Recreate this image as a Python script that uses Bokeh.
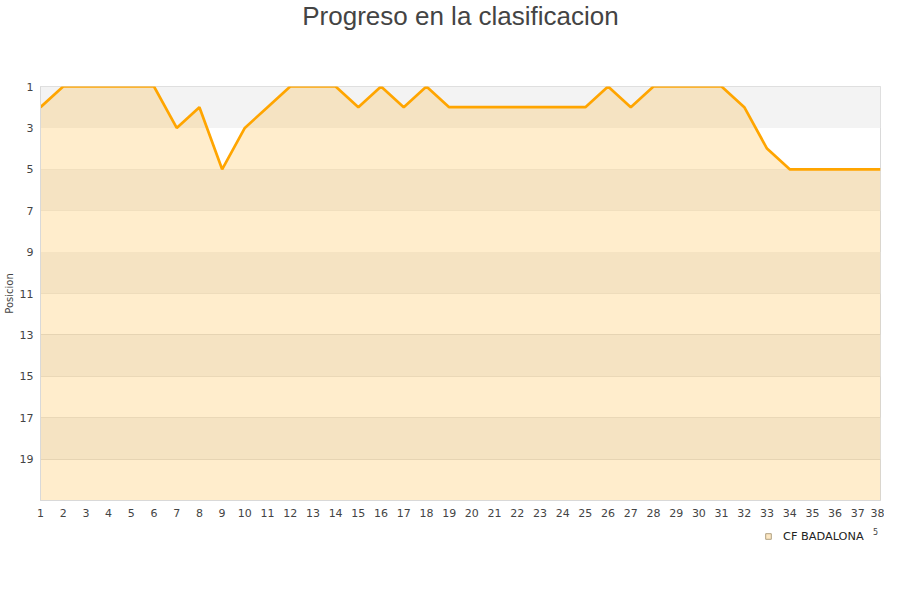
import numpy as np
from bokeh.plotting import figure
from bokeh.layouts import column
from bokeh.models import (Range1d, FixedTicker, Legend, LegendItem, BoxAnnotation,
                          Title, Label)
from bokeh.embed import file_html
from bokeh.resources import INLINE

jornadas = list(range(1, 39))
posicion = [2, 1, 1, 1, 1, 1, 3, 2, 5, 3, 2, 1, 1, 1, 2, 1, 2, 1, 2, 2,
            2, 2, 2, 2, 2, 1, 2, 1, 1, 1, 1, 2, 4, 5, 5, 5, 5, 5]
y_ticks = [1, 3, 5, 7, 9, 11, 13, 15, 17, 19]
team = "CF BADALONA"
title = "Progreso en la clasificacion"
y_label = "Posicion"

p = figure(width=884, height=520, output_backend="svg", toolbar_location=None,
           x_range=Range1d(1, 38), y_range=Range1d(21, 1),
           min_border_left=40, min_border_right=4, min_border_top=0,
           min_border_bottom=20, title=title)

p.title.text_font = "Liberation Sans"
p.title.text_font_size = "26px"
p.title.text_font_style = "normal"
p.title.text_color = "#444444"
p.title.align = "center"
p.title.vertical_align = "top"
p.title.standoff = 0

# spacer between title and plot area
p.add_layout(Title(text=" ", text_font_size="10px", standoff=41), "above")

# alternating bands
for lo in range(1, 21, 4):
    p.add_layout(BoxAnnotation(bottom=lo, top=lo + 2, fill_color="#f3f3f3",
                               fill_alpha=1, line_alpha=0, level="underlay"))

p.varea(x=jornadas, y1=posicion, y2=[21] * len(jornadas),
        fill_color="#ffa500", fill_alpha=0.2)
p.line(jornadas, posicion, line_color="#ffa500", line_width=2.7)

p.xaxis.ticker = FixedTicker(ticks=jornadas)
p.yaxis.ticker = FixedTicker(ticks=y_ticks)
for ax in (p.xaxis, p.yaxis):
    ax.major_tick_line_color = None
    ax.minor_tick_line_color = None
    ax.major_tick_out = 0
    ax.major_tick_in = 0
    ax.minor_tick_out = 0
    ax.axis_line_color = "#d9d9d9"
    ax.major_label_text_font = "DejaVu Sans"
    ax.major_label_text_font_size = "11px"
    ax.major_label_text_color = "#444444"
p.xaxis.major_label_standoff = 8
p.yaxis.major_label_standoff = 7
p.yaxis.axis_label = y_label
p.yaxis.axis_label_text_font = "DejaVu Sans"
p.yaxis.axis_label_text_font_size = "10px"
p.yaxis.axis_label_text_font_style = "normal"
p.yaxis.axis_label_text_color = "#444444"
p.yaxis.axis_label_standoff = 2

p.xgrid.grid_line_color = None
p.ygrid.grid_line_color = "#e0e0e0"
p.ygrid.ticker = FixedTicker(ticks=y_ticks)
p.outline_line_color = "#d9d9d9"
p.background_fill_color = "white"

# legend strip below the chart
lg = figure(width=884, height=60, output_backend="svg", toolbar_location=None,
            x_range=Range1d(0, 1), y_range=Range1d(0, 1),
            min_border_left=0, min_border_right=0, min_border_top=0,
            min_border_bottom=0)
lg.axis.visible = False
lg.grid.visible = False
lg.outline_line_color = None
leg_r = lg.scatter([np.nan], [np.nan], marker="square", size=11,
                   fill_color="#fde8c4", line_color="#b0a080", line_width=1)
legend = Legend(items=[LegendItem(label=team, renderers=[leg_r])],
                location=(719, 35), orientation="horizontal",
                label_text_font="DejaVu Sans", label_text_font_size="11.3px",
                label_text_color="#222222", background_fill_alpha=0,
                border_line_alpha=0, glyph_width=14, glyph_height=14,
                label_standoff=8, padding=2, margin=0)
lg.add_layout(legend, "center")
lg.add_layout(Label(x=0.994, y=0.82, text="5", text_font="DejaVu Sans",
                    text_font_size="8px", text_color="#444444",
                    text_align="center", text_baseline="middle"))

open("out.html", "w").write(file_html(column(p, lg, spacing=0), INLINE))
